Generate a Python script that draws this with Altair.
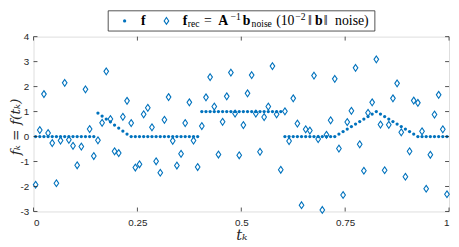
import altair as alt
import pandas as pd

# grid points t_k
t = [0.005, 0.015, 0.025, 0.035, 0.045, 0.055, 0.065, 0.075, 0.085, 0.095,
     0.105, 0.115, 0.125, 0.135, 0.145, 0.155, 0.165, 0.175, 0.185, 0.195,
     0.205, 0.215, 0.225, 0.235, 0.245, 0.255, 0.265, 0.275, 0.285, 0.295,
     0.305, 0.315, 0.325, 0.335, 0.345, 0.355, 0.365, 0.375, 0.385, 0.395,
     0.405, 0.415, 0.425, 0.435, 0.445, 0.455, 0.465, 0.475, 0.485, 0.495,
     0.505, 0.515, 0.525, 0.535, 0.545, 0.555, 0.565, 0.575, 0.585, 0.595,
     0.605, 0.615, 0.625, 0.635, 0.645, 0.655, 0.665, 0.675, 0.685, 0.695,
     0.705, 0.715, 0.725, 0.735, 0.745, 0.755, 0.765, 0.775, 0.785, 0.795,
     0.805, 0.815, 0.825, 0.835, 0.845, 0.855, 0.865, 0.875, 0.885, 0.895,
     0.905, 0.915, 0.925, 0.935, 0.945, 0.955, 0.965, 0.975, 0.985, 0.995]

# true signal f
f_true = [0, 0, 0, 0, 0, 0, 0, 0, 0, 0,
          0, 0, 0, 0, 0, 0.94, 0.82, 0.70, 0.59, 0.46,
          0.34, 0.22, 0.10, 0, 0, 0, 0, 0, 0, 0,
          0, 0, 0, 0, 0, 0, 0, 0, 0, 0,
          1, 1, 1, 1, 1, 1, 1, 1, 1, 1,
          1, 1, 1, 1, 1, 1, 1, 1, 1, 1,
          0, 0, 0, 0, 0, 0, 0, 0, 0, 0,
          0, 0, 0, 0.1, 0.2, 0.3, 0.4, 0.5, 0.6, 0.7,
          0.8, 0.9, 1.0, 0.9, 0.8, 0.7, 0.6, 0.5, 0.4, 0.3,
          0.2, 0.1, 0, 0, 0, 0, 0, 0, 0, 0]

# reconstruction from noisy data
f_rec = [-1.93, 0.26, 1.70, 0.14, -0.26, -1.87, -0.16, 2.15, -0.13, -0.37,
         -1.15, -0.40, 1.89, 0.30, -0.78, -0.15, 0.55, 2.61, 0.70, -0.59,
         -0.66, 0.79, 1.43, 0.54, -1.24, -1.11, 0.89, 1.15, 0.37, -0.99,
         -1.45, 0.67, 1.58, -0.17, -1.16, -0.69, 0.54, 1.37, -0.16, -1.22,
         0.42, 1.57, 2.38, 1.20, -0.72, 0.59, 1.61, 2.56, 0.92, -0.75,
         0.46, 1.73, 2.46, 0.92, -0.61, 0.78, 1.20, 2.82, 0.89, -1.33,
         1.01, -0.18, 1.53, 0.52, -2.75, 0.29, 0.24, 2.44, -0.10, -2.94,
         0.07, 0.65, 2.31, -0.48, -2.34, 0.58, 1.03, 2.75, -0.31, -1.37,
         0.95, 1.37, 3.09, 0.48, -1.35, 0.47, 1.53, 2.13, 0.17, -1.61,
         -0.59, 1.44, 1.35, 0.21, -2.09, -0.73, 0.88, 1.67, 0.29, -2.31]

x_ticks = [0, 0.25, 0.5, 0.75, 1]
y_ticks = [-3, -2, -1, 0, 1, 2, 3, 4]

W, H = 423, 178
BLUE = "#0072BD"
AX = "#262626"
SERIF = "Liberation Serif"

df = pd.DataFrame({"t": t, "f": f_true, "frec": f_rec})
xt = pd.DataFrame({"t": x_ticks})
yt = pd.DataFrame({"f": y_ticks})

xs = alt.Scale(domain=[0, 1], nice=False, zero=False)
ys = alt.Scale(domain=[-3, 4], nice=False, zero=False)

xaxis = alt.Axis(values=x_ticks, labelExpr="'' + datum.value", title="tₖ",
                 tickSize=0, domain=False, grid=False, labelPadding=6,
                 labelFont="Liberation Sans", labelFontSize=10, labelColor=AX,
                 titleFont="DejaVu Serif", titleFontStyle="italic", titleFontWeight="normal",
                 titleFontSize=15, titleColor=AX, titlePadding=1)
yaxis = alt.Axis(values=y_ticks, labelExpr="'' + datum.value", title="fₖ = f(tₖ)",
                 tickSize=0, domain=False, grid=False, labelPadding=5,
                 labelFont="Liberation Sans", labelFontSize=10, labelColor=AX,
                 titleFont="DejaVu Serif", titleFontStyle="italic", titleFontWeight="normal",
                 titleFontSize=14, titleColor=AX, titleX=-18.5, titleY=91.5,
                 titleBaseline="middle", titleAlign="center", titleAngle=270)

X = alt.X("t:Q", scale=xs, axis=xaxis)
Y = alt.Y("f:Q", scale=ys, axis=yaxis)

base = alt.Chart(df)
dots = base.mark_circle(size=11, color=BLUE, opacity=1).encode(x=X, y=Y)
diam_shape = "M0,-1L0.68,0L0,1L-0.68,0Z"
diamonds = base.mark_point(shape=diam_shape, size=48, filled=False, stroke=BLUE,
                           strokeWidth=1.1, opacity=1).encode(
    x=X, y=alt.Y("frec:Q", scale=ys, axis=yaxis))

tick_style = dict(color=AX, strokeWidth=0.8)
tb = alt.Chart(xt).mark_rule(**tick_style).encode(x=X, y=alt.value(H), y2=alt.value(H - 4))
tt = alt.Chart(xt).mark_rule(**tick_style).encode(x=X, y=alt.value(0), y2=alt.value(4))
tl = alt.Chart(yt).mark_rule(**tick_style).encode(y=Y, x=alt.value(0), x2=alt.value(4))
tr = alt.Chart(yt).mark_rule(**tick_style).encode(y=Y, x=alt.value(W), x2=alt.value(W - 4))

one = pd.DataFrame({"s": [0]})


def txt(s, x, y, size=14, bold=False):
    return alt.Chart(one).mark_text(text=s, font=SERIF, fontSize=size,
                                    fontWeight="bold" if bold else "normal",
                                    color="black", align="left", baseline="alphabetic").encode(
        x=alt.value(x), y=alt.value(y))


leg_box = alt.Chart(one).mark_rect(fill="white", stroke=AX, strokeWidth=0.8).encode(
    x=alt.value(76), x2=alt.value(347.5), y=alt.value(-26.3), y2=alt.value(-5.7))
leg_dot = alt.Chart(one).mark_circle(size=11, color=BLUE, opacity=1).encode(
    x=alt.value(92.7), y=alt.value(-16))
leg_dia = alt.Chart(one).mark_point(shape=diam_shape, size=48, filled=False, stroke=BLUE,
                                    strokeWidth=1.1, opacity=1).encode(
    x=alt.value(135.3), y=alt.value(-16))

BL = -11.5
SUB = 9.8
texts = [
    txt("f", 109.3, BL, bold=True),
    txt("f", 152, BL, bold=True),
    txt("rec", 157, BL + 2, size=SUB),
    txt("=", 173.5, BL),
    txt("A", 188, BL, bold=True),
    txt("−1", 200.5, BL - 5.5, size=SUB),
    txt("b", 213, BL, bold=True),
    txt("noise", 222, BL + 2, size=SUB),
    txt("(10", 247, BL),
    txt("−2", 266.5, BL - 5.5, size=SUB),
    txt("‖", 279.5, BL),
    txt("b", 286.5, BL, bold=True),
    txt("‖", 295.5, BL),
    txt("noise)", 307, BL),
]

chart = alt.layer(dots, diamonds, tb, tt, tl, tr, leg_box, leg_dot, leg_dia, *texts).properties(
    width=W, height=H,
    autosize=alt.AutoSizeParams(type="none"),
    padding={"left": 26, "top": 27, "right": 2, "bottom": 33},
).configure_view(stroke=AX, strokeWidth=0.8).configure(background="white")

chart.save("out.html", embed_options={"renderer": "svg", "actions": False})
